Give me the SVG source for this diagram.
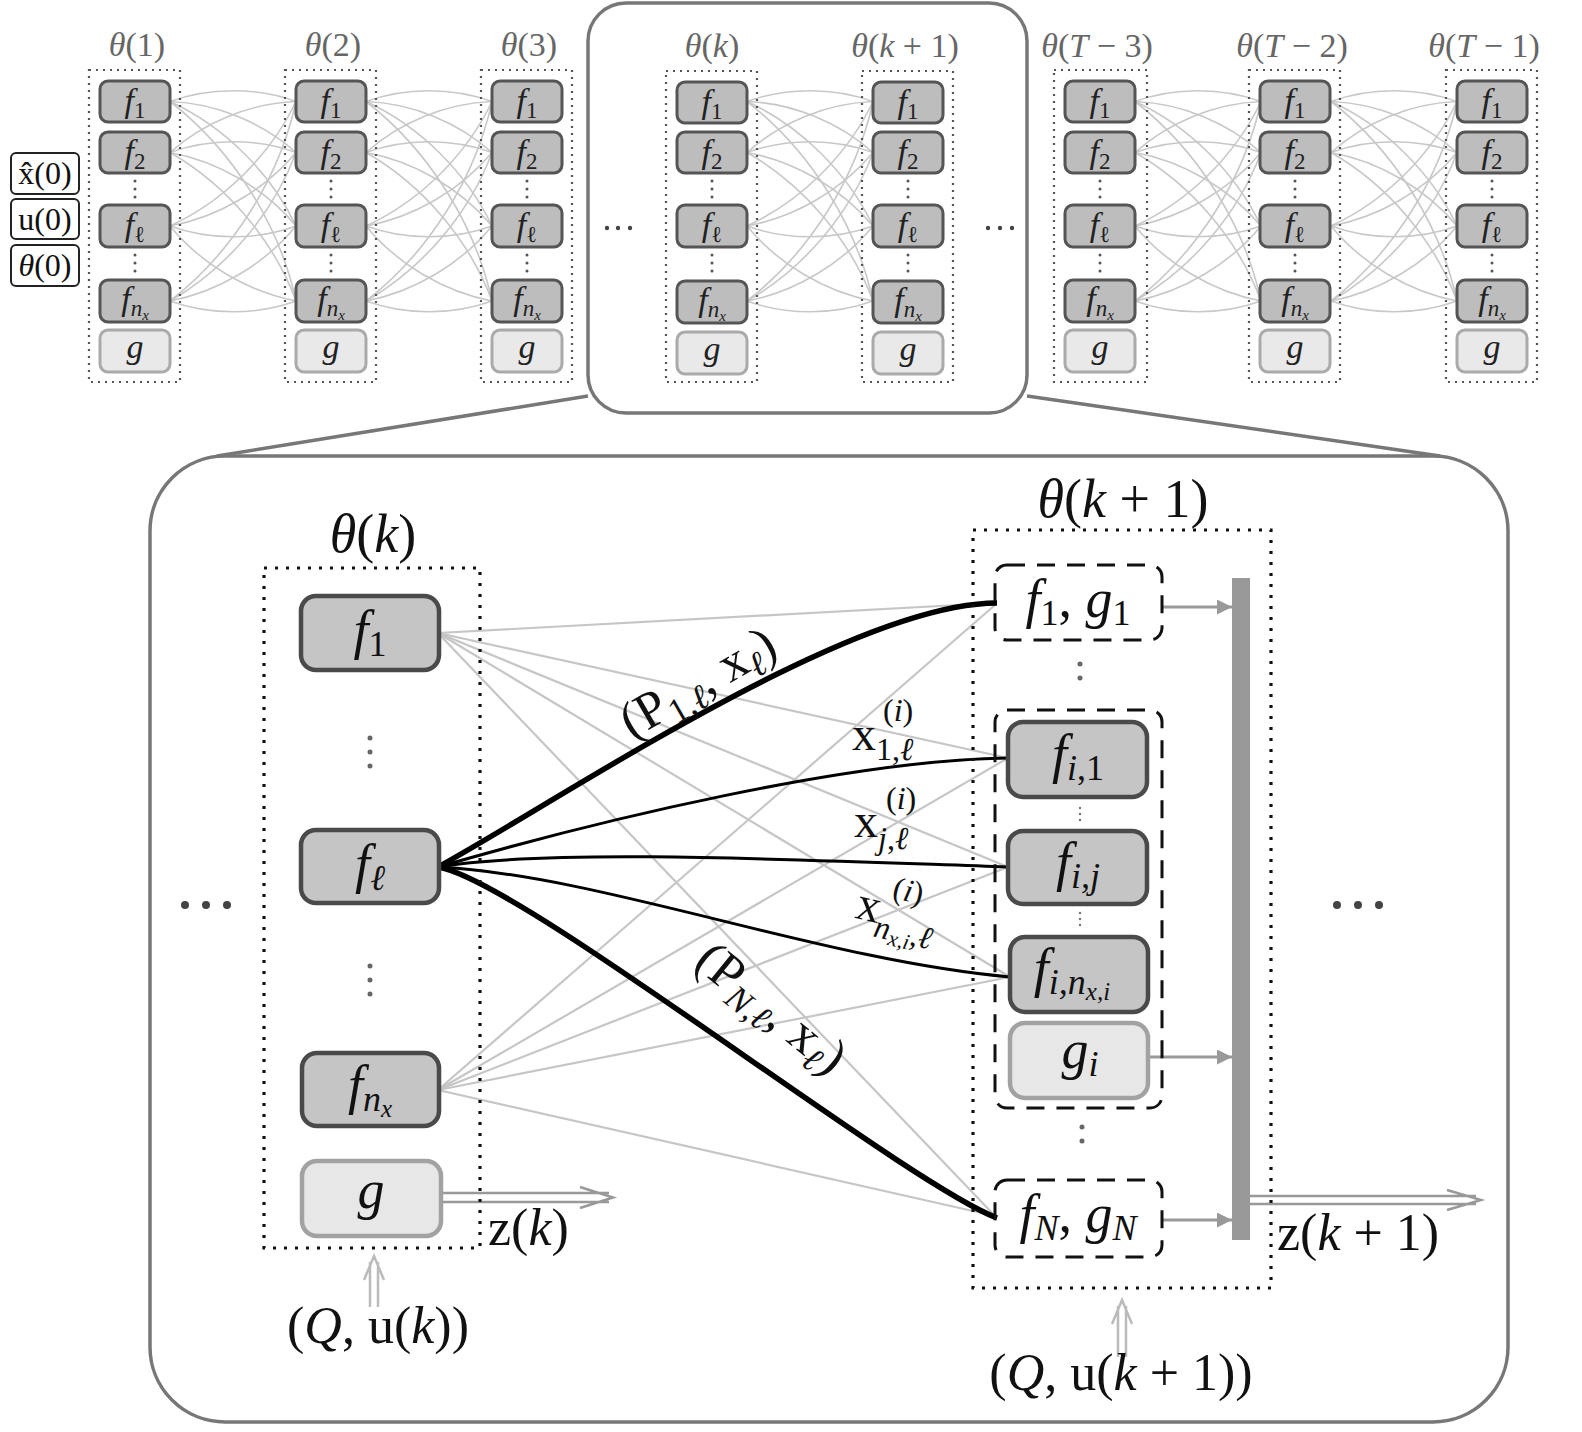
<svg xmlns="http://www.w3.org/2000/svg" xmlns:xlink="http://www.w3.org/1999/xlink" width="1582" height="1432" viewBox="0 0 1582 1432">
<style>
text{font-family:'Liberation Serif','DejaVu Serif',serif}
.i{font-style:italic}
.tn{fill:#bdbdbd;stroke:#555;stroke-width:3}
.tg{fill:#e9e9e9;stroke:#aaa;stroke-width:3}
.tcol{fill:none;stroke:#555;stroke-width:2.2;stroke-dasharray:2 5}
.tt{font-size:34px;fill:#222;text-anchor:middle}
.lab{font-size:34px;fill:#666;text-anchor:middle}
.vd{fill:none;stroke:#555;stroke-width:3;stroke-linecap:round;stroke-dasharray:0 8}
.vdb{fill:none;stroke:#666;stroke-width:5;stroke-linecap:round;stroke-dasharray:0 14}
.vds{fill:none;stroke:#777;stroke-width:2.5;stroke-linecap:round;stroke-dasharray:0 6}
.mesh{fill:none;stroke:#c8c8c8;stroke-width:1.6}
.bn{fill:#c5c5c5;stroke:#4a4a4a;stroke-width:4.5}
.bg{fill:#e7e7e7;stroke:#a2a2a2;stroke-width:4.5}
.dot{fill:none;stroke:#111;stroke-width:3.2;stroke-dasharray:3 8}
.dash{fill:none;stroke:#111;stroke-width:3;stroke-dasharray:18 12}
.bt{font-size:54px;fill:#111;text-anchor:middle}
.gl{fill:none;stroke:#c6c6c6;stroke-width:2.2}
.bk{fill:none;stroke:#000;stroke-width:3}
.bkt{fill:none;stroke:#000;stroke-width:5.5}
.frame{fill:none;stroke:#777;stroke-width:3.5}
.ga{fill:none;stroke:#999;stroke-width:3}
.dbl{fill:none;stroke:#999;stroke-width:2.5}
.dbll{fill:none;stroke:#bbb;stroke-width:2.5}
.inbox{fill:#fff;stroke:#222;stroke-width:2}
</style>
<defs>
<marker id="ah" viewBox="0 0 10 10" refX="10" refY="5" markerWidth="5" markerHeight="5" orient="auto" markerUnits="strokeWidth"><path d="M0,0 L10,5 L0,10 z" fill="#999"/></marker>
<g id="gap">
<path class="mesh" d="M0 101.5 C39.5 87.1 86.5 87.1 126 101.5"/>
<path class="mesh" d="M0 101.5 C45.3 103.1 92.3 122.2 126 152.5"/>
<path class="mesh" d="M0 101.5 C53.7 126.1 100.7 172.6 126 226"/>
<path class="mesh" d="M0 101.5 C62.2 149.6 109.3 224.1 126 301"/>
<path class="mesh" d="M0 152.5 C33.7 122.2 80.7 103.1 126 101.5"/>
<path class="mesh" d="M0 152.5 C39.5 138.1 86.5 138.1 126 152.5"/>
<path class="mesh" d="M0 152.5 C47.8 161.2 94.9 188.6 126 226"/>
<path class="mesh" d="M0 152.5 C56.4 184.7 103.5 240.1 126 301"/>
<path class="mesh" d="M0 226 C53.7 201.4 100.7 154.9 126 101.5"/>
<path class="mesh" d="M0 226 C47.8 217.3 94.9 189.9 126 152.5"/>
<path class="mesh" d="M0 226 C39.5 240.4 86.5 240.4 126 226"/>
<path class="mesh" d="M0 226 C30.9 263.9 78 291.9 126 301"/>
<path class="mesh" d="M0 301 C62.2 252.9 109.3 178.4 126 101.5"/>
<path class="mesh" d="M0 301 C56.4 268.8 103.5 213.4 126 152.5"/>
<path class="mesh" d="M0 301 C48 291.9 95.1 263.9 126 226"/>
<path class="mesh" d="M0 301 C39.5 315.4 86.5 315.4 126 301"/>
</g>
</defs>

<!-- frames -->
<g id="frames">
<rect class="frame" x="588" y="3" width="439" height="410" rx="38"/>
<rect class="frame" x="150" y="456" width="1358" height="966" rx="75"/>
<path class="frame" d="M588 396 L217 456 M1027 396 L1440 456"/>
</g>

<!-- top row connectors -->
<g id="top-connectors">
<use xlink:href="#gap" x="170"/>
<use xlink:href="#gap" x="366"/>
<use xlink:href="#gap" x="747"/>
<use xlink:href="#gap" x="1135"/>
<use xlink:href="#gap" x="1331"/>
</g>

<!-- inputs -->
<g id="in-x0"><rect class="inbox" x="11" y="153" width="68" height="41" rx="5"/><text x="45" y="184" font-size="32" text-anchor="middle" fill="#111">x̂(0)</text></g>
<g id="in-u0"><rect class="inbox" x="11" y="199" width="68" height="40" rx="5"/><text x="45" y="230" font-size="32" text-anchor="middle" fill="#111">u(0)</text></g>
<g id="in-t0"><rect class="inbox" x="11" y="245" width="68" height="41" rx="5"/><text x="45" y="276" font-size="32" text-anchor="middle" fill="#111"><tspan class="i">θ</tspan>(0)</text></g>

<!-- top columns -->
<g id="col1" transform="translate(135,0)">
<text class="lab" x="2" y="56"><tspan class="i">θ</tspan>(1)</text>
<rect class="tcol" x="-46" y="70" width="91" height="312"/>
<g id="c1-f1"><rect class="tn" x="-35" y="81" width="70" height="41" rx="8"/><text class="tt" x="0" y="112"><tspan class="i">f</tspan><tspan font-size="23" dy="6">1</tspan></text></g>
<g id="c1-f2"><rect class="tn" x="-35" y="132" width="70" height="41" rx="8"/><text class="tt" x="0" y="163"><tspan class="i">f</tspan><tspan font-size="23" dy="6">2</tspan></text></g>
<g id="c1-fl"><rect class="tn" x="-35" y="205" width="70" height="42" rx="8"/><text class="tt" x="0" y="236"><tspan class="i">f</tspan><tspan font-size="23" dy="6">ℓ</tspan></text></g>
<g id="c1-fn"><rect class="tn" x="-35" y="280" width="70" height="42" rx="8"/><text class="tt" x="0" y="310"><tspan class="i">f</tspan><tspan class="i" font-size="23" dy="6">n</tspan><tspan class="i" font-size="15" dy="4">x</tspan></text></g>
<g id="c1-g"><rect class="tg" x="-35" y="330" width="70" height="42" rx="8"/><text class="tt" x="0" y="358"><tspan class="i">g</tspan></text></g>
<path class="vd" d="M0 181V199 M0 255V273"/>
</g>

<g id="col2" transform="translate(331,0)">
<text class="lab" x="2" y="56"><tspan class="i">θ</tspan>(2)</text>
<rect class="tcol" x="-46" y="70" width="91" height="312"/>
<g id="c2-f1"><rect class="tn" x="-35" y="81" width="70" height="41" rx="8"/><text class="tt" x="0" y="112"><tspan class="i">f</tspan><tspan font-size="23" dy="6">1</tspan></text></g>
<g id="c2-f2"><rect class="tn" x="-35" y="132" width="70" height="41" rx="8"/><text class="tt" x="0" y="163"><tspan class="i">f</tspan><tspan font-size="23" dy="6">2</tspan></text></g>
<g id="c2-fl"><rect class="tn" x="-35" y="205" width="70" height="42" rx="8"/><text class="tt" x="0" y="236"><tspan class="i">f</tspan><tspan font-size="23" dy="6">ℓ</tspan></text></g>
<g id="c2-fn"><rect class="tn" x="-35" y="280" width="70" height="42" rx="8"/><text class="tt" x="0" y="310"><tspan class="i">f</tspan><tspan class="i" font-size="23" dy="6">n</tspan><tspan class="i" font-size="15" dy="4">x</tspan></text></g>
<g id="c2-g"><rect class="tg" x="-35" y="330" width="70" height="42" rx="8"/><text class="tt" x="0" y="358"><tspan class="i">g</tspan></text></g>
<path class="vd" d="M0 181V199 M0 255V273"/>
</g>

<g id="col3" transform="translate(527,0)">
<text class="lab" x="2" y="56"><tspan class="i">θ</tspan>(3)</text>
<rect class="tcol" x="-46" y="70" width="91" height="312"/>
<g id="c3-f1"><rect class="tn" x="-35" y="81" width="70" height="41" rx="8"/><text class="tt" x="0" y="112"><tspan class="i">f</tspan><tspan font-size="23" dy="6">1</tspan></text></g>
<g id="c3-f2"><rect class="tn" x="-35" y="132" width="70" height="41" rx="8"/><text class="tt" x="0" y="163"><tspan class="i">f</tspan><tspan font-size="23" dy="6">2</tspan></text></g>
<g id="c3-fl"><rect class="tn" x="-35" y="205" width="70" height="42" rx="8"/><text class="tt" x="0" y="236"><tspan class="i">f</tspan><tspan font-size="23" dy="6">ℓ</tspan></text></g>
<g id="c3-fn"><rect class="tn" x="-35" y="280" width="70" height="42" rx="8"/><text class="tt" x="0" y="310"><tspan class="i">f</tspan><tspan class="i" font-size="23" dy="6">n</tspan><tspan class="i" font-size="15" dy="4">x</tspan></text></g>
<g id="c3-g"><rect class="tg" x="-35" y="330" width="70" height="42" rx="8"/><text class="tt" x="0" y="358"><tspan class="i">g</tspan></text></g>
<path class="vd" d="M0 181V199 M0 255V273"/>
</g>

<g id="colk" transform="translate(712,0)">
<text class="lab" x="0" y="57"><tspan class="i">θ</tspan>(<tspan class="i">k</tspan>)</text>
<rect class="tcol" x="-46" y="71" width="91" height="311"/>
<g id="ck-f1"><rect class="tn" x="-35" y="82" width="70" height="41" rx="8"/><text class="tt" x="0" y="113"><tspan class="i">f</tspan><tspan font-size="23" dy="6">1</tspan></text></g>
<g id="ck-f2"><rect class="tn" x="-35" y="132" width="70" height="41" rx="8"/><text class="tt" x="0" y="163"><tspan class="i">f</tspan><tspan font-size="23" dy="6">2</tspan></text></g>
<g id="ck-fl"><rect class="tn" x="-35" y="205" width="70" height="42" rx="8"/><text class="tt" x="0" y="236"><tspan class="i">f</tspan><tspan font-size="23" dy="6">ℓ</tspan></text></g>
<g id="ck-fn"><rect class="tn" x="-35" y="281" width="70" height="42" rx="8"/><text class="tt" x="0" y="311"><tspan class="i">f</tspan><tspan class="i" font-size="23" dy="6">n</tspan><tspan class="i" font-size="15" dy="4">x</tspan></text></g>
<g id="ck-g"><rect class="tg" x="-35" y="332" width="70" height="42" rx="8"/><text class="tt" x="0" y="360"><tspan class="i">g</tspan></text></g>
<path class="vd" d="M0 181V199 M0 255V273"/>
</g>

<g id="colk1" transform="translate(908,0)">
<text class="lab" x="-3" y="57"><tspan class="i">θ</tspan>(<tspan class="i">k</tspan> + 1)</text>
<rect class="tcol" x="-46" y="71" width="91" height="311"/>
<g id="ck1-f1"><rect class="tn" x="-35" y="82" width="70" height="41" rx="8"/><text class="tt" x="0" y="113"><tspan class="i">f</tspan><tspan font-size="23" dy="6">1</tspan></text></g>
<g id="ck1-f2"><rect class="tn" x="-35" y="132" width="70" height="41" rx="8"/><text class="tt" x="0" y="163"><tspan class="i">f</tspan><tspan font-size="23" dy="6">2</tspan></text></g>
<g id="ck1-fl"><rect class="tn" x="-35" y="205" width="70" height="42" rx="8"/><text class="tt" x="0" y="236"><tspan class="i">f</tspan><tspan font-size="23" dy="6">ℓ</tspan></text></g>
<g id="ck1-fn"><rect class="tn" x="-35" y="281" width="70" height="42" rx="8"/><text class="tt" x="0" y="311"><tspan class="i">f</tspan><tspan class="i" font-size="23" dy="6">n</tspan><tspan class="i" font-size="15" dy="4">x</tspan></text></g>
<g id="ck1-g"><rect class="tg" x="-35" y="332" width="70" height="42" rx="8"/><text class="tt" x="0" y="360"><tspan class="i">g</tspan></text></g>
<path class="vd" d="M0 181V199 M0 255V273"/>
</g>

<g id="colT3" transform="translate(1100,0)">
<text class="lab" x="-3" y="57"><tspan class="i">θ</tspan>(<tspan class="i">T</tspan> − 3)</text>
<rect class="tcol" x="-46" y="70" width="93" height="312"/>
<g id="cT3-f1"><rect class="tn" x="-35" y="81" width="70" height="41" rx="8"/><text class="tt" x="0" y="112"><tspan class="i">f</tspan><tspan font-size="23" dy="6">1</tspan></text></g>
<g id="cT3-f2"><rect class="tn" x="-35" y="132" width="70" height="41" rx="8"/><text class="tt" x="0" y="163"><tspan class="i">f</tspan><tspan font-size="23" dy="6">2</tspan></text></g>
<g id="cT3-fl"><rect class="tn" x="-35" y="205" width="70" height="42" rx="8"/><text class="tt" x="0" y="236"><tspan class="i">f</tspan><tspan font-size="23" dy="6">ℓ</tspan></text></g>
<g id="cT3-fn"><rect class="tn" x="-35" y="280" width="70" height="42" rx="8"/><text class="tt" x="0" y="310"><tspan class="i">f</tspan><tspan class="i" font-size="23" dy="6">n</tspan><tspan class="i" font-size="15" dy="4">x</tspan></text></g>
<g id="cT3-g"><rect class="tg" x="-35" y="330" width="70" height="42" rx="8"/><text class="tt" x="0" y="358"><tspan class="i">g</tspan></text></g>
<path class="vd" d="M0 181V199 M0 255V273"/>
</g>

<g id="colT2" transform="translate(1295,0)">
<text class="lab" x="-3" y="57"><tspan class="i">θ</tspan>(<tspan class="i">T</tspan> − 2)</text>
<rect class="tcol" x="-46" y="70" width="91" height="312"/>
<g id="cT2-f1"><rect class="tn" x="-35" y="81" width="70" height="41" rx="8"/><text class="tt" x="0" y="112"><tspan class="i">f</tspan><tspan font-size="23" dy="6">1</tspan></text></g>
<g id="cT2-f2"><rect class="tn" x="-35" y="132" width="70" height="41" rx="8"/><text class="tt" x="0" y="163"><tspan class="i">f</tspan><tspan font-size="23" dy="6">2</tspan></text></g>
<g id="cT2-fl"><rect class="tn" x="-35" y="205" width="70" height="42" rx="8"/><text class="tt" x="0" y="236"><tspan class="i">f</tspan><tspan font-size="23" dy="6">ℓ</tspan></text></g>
<g id="cT2-fn"><rect class="tn" x="-35" y="280" width="70" height="42" rx="8"/><text class="tt" x="0" y="310"><tspan class="i">f</tspan><tspan class="i" font-size="23" dy="6">n</tspan><tspan class="i" font-size="15" dy="4">x</tspan></text></g>
<g id="cT2-g"><rect class="tg" x="-35" y="330" width="70" height="42" rx="8"/><text class="tt" x="0" y="358"><tspan class="i">g</tspan></text></g>
<path class="vd" d="M0 181V199 M0 255V273"/>
</g>

<g id="colT1" transform="translate(1492,0)">
<text class="lab" x="-8" y="57"><tspan class="i">θ</tspan>(<tspan class="i">T</tspan> − 1)</text>
<rect class="tcol" x="-46" y="70" width="91" height="312"/>
<g id="cT1-f1"><rect class="tn" x="-35" y="81" width="70" height="41" rx="8"/><text class="tt" x="0" y="112"><tspan class="i">f</tspan><tspan font-size="23" dy="6">1</tspan></text></g>
<g id="cT1-f2"><rect class="tn" x="-35" y="132" width="70" height="41" rx="8"/><text class="tt" x="0" y="163"><tspan class="i">f</tspan><tspan font-size="23" dy="6">2</tspan></text></g>
<g id="cT1-fl"><rect class="tn" x="-35" y="205" width="70" height="42" rx="8"/><text class="tt" x="0" y="236"><tspan class="i">f</tspan><tspan font-size="23" dy="6">ℓ</tspan></text></g>
<g id="cT1-fn"><rect class="tn" x="-35" y="280" width="70" height="42" rx="8"/><text class="tt" x="0" y="310"><tspan class="i">f</tspan><tspan class="i" font-size="23" dy="6">n</tspan><tspan class="i" font-size="15" dy="4">x</tspan></text></g>
<g id="cT1-g"><rect class="tg" x="-35" y="330" width="70" height="42" rx="8"/><text class="tt" x="0" y="358"><tspan class="i">g</tspan></text></g>
<path class="vd" d="M0 181V199 M0 255V273"/>
</g>

<g id="top-ellipses" fill="#444">
<circle cx="607" cy="228" r="2.2"/><circle cx="618" cy="228" r="2.2"/><circle cx="630" cy="228" r="2.2"/>
<circle cx="988" cy="228" r="2.2"/><circle cx="1000" cy="228" r="2.2"/><circle cx="1012" cy="228" r="2.2"/>
</g>

<!-- bottom connectors -->
<g id="connectors">
<path class="gl" d="M438 633 L995 603"/>
<path class="gl" d="M438 633 L1008 758"/>
<path class="gl" d="M438 633 L1008 867"/>
<path class="gl" d="M438 633 L1010 977"/>
<path class="gl" d="M438 633 L995 1216"/>
<path class="gl" d="M438 1090 L995 605"/>
<path class="gl" d="M438 1090 L1008 758"/>
<path class="gl" d="M438 1090 L1008 867"/>
<path class="gl" d="M438 1090 L1010 977"/>
<path class="gl" d="M438 1090 L995 1216"/>
<path class="bkt" d="M438 867 C560 800 850 603 997 603"/>
<path class="bkt" d="M438 867 C520 880 900 1180 997 1218"/>
<path class="bk" d="M438 867 C600 820 850 760 1008 758"/>
<path class="bk" d="M438 867 C550 848 800 860 1008 867"/>
<path class="bk" d="M438 867 C600 875 820 960 1010 977"/>
<path class="ga" marker-end="url(#ah)" d="M1162 607 H1232"/>
<path class="ga" marker-end="url(#ah)" d="M1148 1057 H1232"/>
<path class="ga" marker-end="url(#ah)" d="M1162 1220 H1232"/>
<path class="dbl" d="M442 1193 H609 M442 1202 H609 M580 1187 L613 1197.5 L580 1208"/>
<path class="dbl" d="M1250 1196 H1476 M1250 1204 H1476 M1447 1190 L1481 1200 L1447 1210"/>
<path class="dbll" d="M370 1307 V1262 M378 1307 V1262 M364 1280 L374 1256 L384 1280"/>
<path class="dbll" d="M1118 1357 V1306 M1126 1357 V1306 M1112 1324 L1122 1300 L1132 1324"/>
</g>

<!-- bottom left column -->
<g id="theta-k">
<text class="bt" x="373" y="552"><tspan class="i">θ</tspan>(<tspan class="i">k</tspan>)</text>
<rect class="dot" x="264" y="568" width="216" height="680"/>
</g>
<g id="bk-f1"><rect class="bn" x="301" y="596" width="138" height="74" rx="15"/><text class="bt" x="370" y="648"><tspan class="i">f</tspan><tspan font-size="36" dy="8">1</tspan></text></g>
<g id="bk-fl"><rect class="bn" x="301" y="830" width="138" height="73" rx="15"/><text class="bt" x="370" y="882"><tspan class="i">f</tspan><tspan class="i" font-size="36" dy="8">ℓ</tspan></text></g>
<g id="bk-fn"><rect class="bn" x="302" y="1053" width="137" height="73" rx="15"/><text class="bt" x="370" y="1103"><tspan class="i">f</tspan><tspan class="i" font-size="36" dy="8">n</tspan><tspan class="i" font-size="25" dy="6">x</tspan></text></g>
<g id="bk-g"><rect class="bg" x="302" y="1161" width="139" height="75" rx="15"/><text class="bt" x="371" y="1208"><tspan class="i">g</tspan></text></g>
<path class="vdb" d="M370 738 V767 M370 966 V995"/>

<!-- bottom right column -->
<g id="theta-k1">
<text class="bt" x="1123" y="517"><tspan class="i">θ</tspan>(<tspan class="i">k</tspan> + 1)</text>
<rect class="dot" x="973" y="530" width="298" height="758"/>
</g>
<g id="b-f1g1"><rect class="dash" x="995" y="565" width="167" height="75" rx="12"/><text class="bt" x="1078" y="617"><tspan class="i">f</tspan><tspan font-size="36" dy="8">1</tspan><tspan dy="-8">, </tspan><tspan class="i">g</tspan><tspan font-size="36" dy="8">1</tspan></text></g>
<path class="vdb" d="M1080 664 V691"/>
<g id="b-group-i">
<rect class="dash" x="995" y="710" width="167" height="398" rx="12"/>
<g id="b-fi1"><rect class="bn" x="1008" y="722" width="139" height="75" rx="15"/><text class="bt" x="1078" y="772"><tspan class="i">f</tspan><tspan font-size="36" dy="8"><tspan class="i">i</tspan>,1</tspan></text></g>
<path class="vds" d="M1080 808 V824"/>
<g id="b-fij"><rect class="bn" x="1008" y="831" width="139" height="73" rx="15"/><text class="bt" x="1078" y="880"><tspan class="i">f</tspan><tspan class="i" font-size="36" dy="8">i,j</tspan></text></g>
<path class="vds" d="M1080 913 V930"/>
<g id="b-finx"><rect class="bn" x="1010" y="937" width="138" height="75" rx="15"/><text class="bt" x="1072" y="986"><tspan class="i">f</tspan><tspan class="i" font-size="36" dy="8">i,n</tspan><tspan class="i" font-size="25" dy="6">x,i</tspan></text></g>
<g id="b-gi"><rect class="bg" x="1010" y="1023" width="138" height="75" rx="15"/><text class="bt" x="1080" y="1068"><tspan class="i">g</tspan><tspan class="i" font-size="36" dy="8">i</tspan></text></g>
</g>
<path class="vdb" d="M1082 1127 V1155"/>
<g id="b-fNgN"><rect class="dash" x="995" y="1180" width="167" height="77" rx="12"/><text class="bt" x="1078" y="1232"><tspan class="i">f</tspan><tspan class="i" font-size="36" dy="8">N</tspan><tspan dy="-8">, </tspan><tspan class="i">g</tspan><tspan class="i" font-size="36" dy="8">N</tspan></text></g>
<g id="bar"><rect x="1232" y="578" width="18" height="662" fill="#999"/></g>

<!-- labels -->
<g id="labels" fill="#111">
<text transform="translate(706,697) rotate(-30)" font-size="52" text-anchor="middle">(P<tspan font-size="35" dy="9">1,<tspan class="i">ℓ</tspan></tspan><tspan dy="-9">, x</tspan><tspan class="i" font-size="35" dy="9">ℓ</tspan><tspan dy="-9">)</tspan></text>
<text transform="translate(761,1021) rotate(39)" font-size="52" text-anchor="middle">(P<tspan class="i" font-size="35" dy="9">N</tspan><tspan font-size="35">,<tspan class="i">ℓ</tspan></tspan><tspan dy="-9">, x</tspan><tspan class="i" font-size="35" dy="9">ℓ</tspan><tspan dy="-9">)</tspan></text>
<text font-size="48"><tspan x="852" y="750">x</tspan><tspan x="883" y="721" font-size="32">(<tspan class="i">i</tspan>)</tspan><tspan x="876" y="760" font-size="32">1,<tspan class="i">ℓ</tspan></tspan></text>
<text font-size="48"><tspan x="854" y="837">x</tspan><tspan x="886" y="809" font-size="32">(<tspan class="i">i</tspan>)</tspan><tspan x="878" y="849" font-size="32"><tspan class="i">j</tspan>,<tspan class="i">ℓ</tspan></tspan></text>
<text font-size="48" transform="rotate(13 873 915)"><tspan x="855" y="922">x</tspan><tspan x="887" y="894" font-size="32">(<tspan class="i">i</tspan>)</tspan><tspan x="877" y="936" font-size="32" class="i">n</tspan><tspan font-size="22" dy="5" class="i">x,i</tspan><tspan font-size="32" dy="-5">,<tspan class="i">ℓ</tspan></tspan></text>
<text x="488" y="1245" font-size="52">z(<tspan class="i">k</tspan>)</text>
<text x="1277" y="1250" font-size="52">z(<tspan class="i">k</tspan> + 1)</text>
<text x="378" y="1343" font-size="52" text-anchor="middle">(<tspan class="i">Q</tspan>, u(<tspan class="i">k</tspan>))</text>
<text x="1121" y="1390" font-size="52" text-anchor="middle">(<tspan class="i">Q</tspan>, u(<tspan class="i">k</tspan> + 1))</text>
</g>
<g id="bottom-ellipses" fill="#444">
<circle cx="185" cy="905" r="4"/><circle cx="206" cy="905" r="4"/><circle cx="227" cy="905" r="4"/>
<circle cx="1337" cy="905" r="4"/><circle cx="1358" cy="905" r="4"/><circle cx="1379" cy="905" r="4"/>
</g>
</svg>
